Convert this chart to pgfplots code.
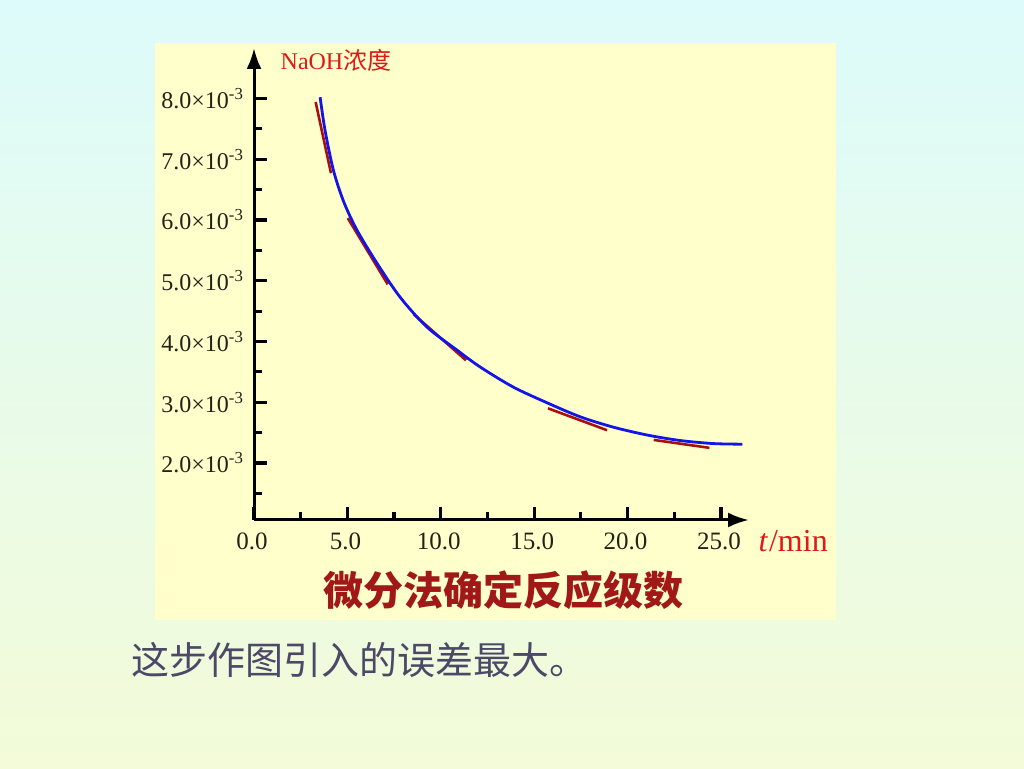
\documentclass[border=0pt]{standalone}
\usepackage{pgfplots}
\pgfplotsset{compat=1.18}
\usetikzlibrary{arrows.meta}
\usepackage{fontspec}
\setmainfont{Liberation Serif}
\newfontfamily\cjk{Noto Sans CJK SC}
\definecolor{bgtop}{HTML}{DDFBFB}
\definecolor{bgbot}{HTML}{F3FBD8}
\definecolor{panel}{HTML}{FFFFCC}
\definecolor{tangent}{HTML}{A81010}
\definecolor{capred}{HTML}{A01818}
\definecolor{note}{HTML}{4A4A68}
\definecolor{labred}{HTML}{E01818}
\definecolor{curve}{HTML}{1414E6}
\definecolor{ticktext}{HTML}{222218}

\begin{document}
\begin{tikzpicture}[x=1pt,y=1pt]
\useasboundingbox (0pt,0pt) rectangle (1024pt,768pt);
\shade[top color=bgtop, bottom color=bgbot] (0pt,0pt) rectangle (1024pt,768pt);
\fill[panel] (155pt,148pt) rectangle (836pt,725pt);
\begin{axis}[
    at={(254pt,248pt)}, anchor=south west,
    scale only axis, width=495pt, height=472pt,
    xmin=0, xmax=26.5, ymin=1.0625, ymax=8.83,
    axis lines*=left, clip=false,
    axis line style={line width=3pt, black, -{Latex[length=21pt,width=15pt]}},
    tick align=inside,
    major tick length=13pt, minor tick length=8pt,
    tick style={line width=3.2pt, black},
    xtick={0,5,10,15,20,25},
    xticklabels={0.0,5.0,10.0,15.0,20.0,25.0},
    minor xtick={2.5,7.5,12.5,17.5,22.5},
    ytick={2,3,4,5,6,7,8},
    yticklabels={2.0×10\textsuperscript{-3},3.0×10\textsuperscript{-3},4.0×10\textsuperscript{-3},5.0×10\textsuperscript{-3},6.0×10\textsuperscript{-3},7.0×10\textsuperscript{-3},8.0×10\textsuperscript{-3}},
    minor ytick={1.5,2.5,3.5,4.5,5.5,6.5,7.5},
    tick label style={text=ticktext},
    xticklabel style={font=\fontsize{25}{25}\selectfont, yshift=-9pt, xshift=-2pt},
    yticklabel style={font=\fontsize{24}{24}\selectfont, xshift=-7pt},
]
% tangent segments
\addplot[tangent, line width=2.6pt] coordinates {(3.30,7.94) (4.12,6.77)};
\addplot[tangent, line width=2.6pt] coordinates {(5.02,6.03) (7.16,4.94)};
\addplot[tangent, line width=2.6pt] coordinates {(8.54,4.45) (11.35,3.69)};
\addplot[tangent, line width=2.6pt] coordinates {(15.74,2.90) (18.90,2.54)};
\addplot[tangent, line width=2.6pt] coordinates {(21.40,2.38) (24.38,2.25)};
% concentration curve
\addplot[curve, line width=2.8pt, smooth] coordinates {
(3.54,8.02) (3.80,7.48) (4.25,6.82) (4.79,6.31) (5.50,5.84) (6.58,5.29)
(7.82,4.73) (9.25,4.24) (10.86,3.86) (12.11,3.58) (13.88,3.25) (15.70,2.99)
(17.47,2.76) (19.24,2.59) (21.06,2.46) (22.83,2.37) (24.60,2.32) (26.15,2.31)
};
\end{axis}
\node[text=labred, font=\fontsize{24}{24}\selectfont] at (336pt,708pt) {NaOH{\cjk 浓度}};
\node[text=labred, font=\fontsize{32}{32}\selectfont, anchor=west] at (755pt,227pt) {\textit{t}\kern1pt/min};
\node[text=capred, font=\fontsize{40}{40}\selectfont\cjk\bfseries] at (503pt,178pt) {微分法确定反应级数};
\node[text=note, font=\fontsize{38}{38}\selectfont\cjk, anchor=west] at (128pt,108pt) {这步作图引入的误差最大。};
\end{tikzpicture}
\end{document}
